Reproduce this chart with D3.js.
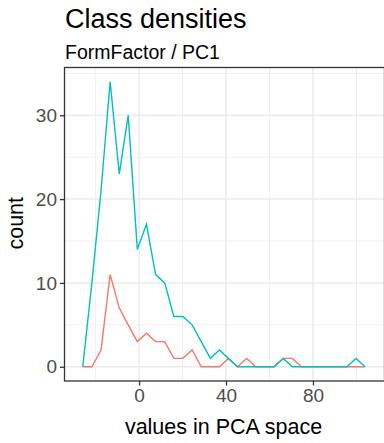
<!DOCTYPE html>
<html>
<head>
<meta charset="utf-8">
<script src="https://cdn.jsdelivr.net/npm/d3@7"></script>
<style>
  body { margin: 0; background: #fff; }
  text { font-family: "Liberation Sans", Arial, sans-serif; }
</style>
</head>
<body>
<div id="chart"></div>
<script>
// bin centres of the frequency polygon (values in PCA space)
const binCentres = [-25.9, -21.7, -17.5, -13.3, -9.1, -5.0, -0.8, 3.4, 7.6, 11.8, 16.0, 20.2,
  24.4, 28.6, 32.8, 37.0, 41.1, 45.3, 49.5, 53.7, 57.9, 62.1, 66.3, 70.5, 74.7, 78.9,
  83.0, 87.2, 91.4, 95.6, 99.8, 104.0];
const countsRed = [0, 0, 2, 11, 7, 5, 3, 4, 3, 3, 1, 1, 2, 0, 0, 0, 1, 0, 1, 0, 0, 0,
  1, 1, 0, 0, 0, 0, 0, 0, 0, 0];
const countsCyan = [0, 10, 21, 34, 23, 30, 14, 17, 11, 10, 6, 6, 5, 3, 1, 2, 1, 0, 0, 0, 0, 0,
  1, 0, 0, 0, 0, 0, 0, 0, 1, 0];
const xMajor = [0, 40, 80];
const xMinor = [-20, 20, 60, 100];
const yMajor = [0, 10, 20, 30];
const yMinor = [5, 15, 25, 35];

const w = 384, h = 443;
const panel = { left: 64.5, right: 384.5, top: 67.5, bottom: 381 };

const svg = d3.select("#chart").append("svg")
  .attr("width", w)
  .attr("height", h);

const x = d3.scaleLinear().domain([-34.3, 112.9]).range([panel.left, panel.right]);
const y = d3.scaleLinear().domain([-1.7, 35.7]).range([panel.bottom, panel.top]);

// grid
svg.selectAll(".gminx").data(xMinor).enter().append("line")
  .attr("x1", d => x(d)).attr("x2", d => x(d))
  .attr("y1", panel.top).attr("y2", panel.bottom)
  .attr("stroke", "#f0f0f0").attr("stroke-width", 1);
svg.selectAll(".gminy").data(yMinor).enter().append("line")
  .attr("x1", panel.left).attr("x2", panel.right)
  .attr("y1", d => y(d)).attr("y2", d => y(d))
  .attr("stroke", "#f0f0f0").attr("stroke-width", 1);
svg.selectAll(".gmajx").data(xMajor).enter().append("line")
  .attr("x1", d => x(d)).attr("x2", d => x(d))
  .attr("y1", panel.top).attr("y2", panel.bottom)
  .attr("stroke", "#ebebeb").attr("stroke-width", 1.5);
svg.selectAll(".gmajy").data(yMajor).enter().append("line")
  .attr("x1", panel.left).attr("x2", panel.right)
  .attr("y1", d => y(d)).attr("y2", d => y(d))
  .attr("stroke", "#ebebeb").attr("stroke-width", 1.5);

// lines
const line = d3.line()
  .x((d, i) => x(binCentres[i]))
  .y(d => y(d));

svg.append("path").datum(countsRed)
  .attr("d", line)
  .attr("fill", "none")
  .attr("stroke", "#F8766D")
  .attr("stroke-width", 1.4);

svg.append("path").datum(countsCyan)
  .attr("d", line)
  .attr("fill", "none")
  .attr("stroke", "#00BFC4")
  .attr("stroke-width", 1.4);

// panel border
svg.append("rect")
  .attr("x", panel.left).attr("y", panel.top)
  .attr("width", panel.right - panel.left)
  .attr("height", panel.bottom - panel.top)
  .attr("fill", "none")
  .attr("stroke", "#333333")
  .attr("stroke-width", 1.3);

// axes
const xAxis = d3.axisBottom(x).tickValues(xMajor).tickSize(4.5).tickPadding(3);
const yAxis = d3.axisLeft(y).tickValues(yMajor).tickSize(4.5).tickPadding(3);

const gx = svg.append("g").attr("transform", `translate(0,${panel.bottom})`).call(xAxis);
const gy = svg.append("g").attr("transform", `translate(${panel.left},0)`).call(yAxis);
[gx, gy].forEach(g => {
  g.select(".domain").remove();
  g.selectAll(".tick line").attr("stroke", "#333333").attr("stroke-width", 1.3);
  g.selectAll(".tick text")
    .attr("fill", "#4d4d4d")
    .style("font-size", "19px")
    .style("font-family", "'Liberation Sans', Arial, sans-serif");
});

// titles
svg.append("text").attr("x", 65).attr("y", 28)
  .text("Class densities")
  .style("font-size", "27px").attr("fill", "#000");
svg.append("text").attr("x", 65).attr("y", 59)
  .text("FormFactor / PC1")
  .style("font-size", "19.5px").attr("fill", "#000");

svg.append("text")
  .attr("x", (panel.left + panel.right) / 2 - 1).attr("y", 434)
  .attr("text-anchor", "middle")
  .text("values in PCA space")
  .style("font-size", "21.5px").attr("fill", "#000");

svg.append("text")
  .attr("transform", `translate(23,${(panel.top + panel.bottom) / 2 - 1}) rotate(-90)`)
  .attr("text-anchor", "middle")
  .text("count")
  .style("font-size", "21.5px").attr("fill", "#000");
</script>
</body>
</html>
